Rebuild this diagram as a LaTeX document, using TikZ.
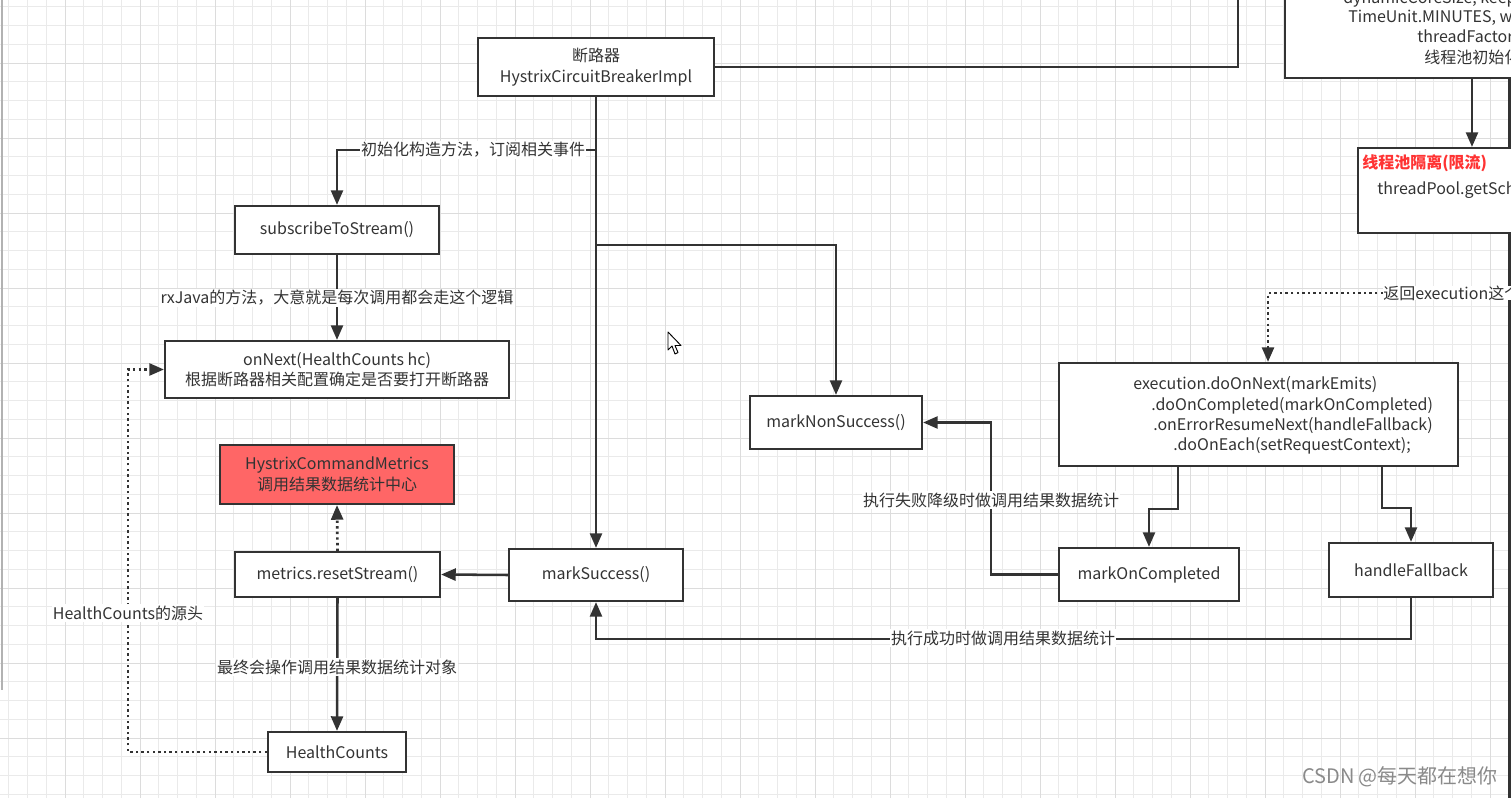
\documentclass[tikz,border=0pt]{standalone}
\usepackage{fontspec}
\setmainfont{Noto Sans CJK SC}
\usetikzlibrary{arrows.meta,calc}
\definecolor{ink}{HTML}{333333}
\definecolor{gridminor}{HTML}{EAEAEA}
\definecolor{gridmajor}{HTML}{DCDCDC}
\definecolor{hcmred}{HTML}{FF6666}
\definecolor{titlered}{HTML}{FF3333}
\definecolor{wmark}{HTML}{8A8A8A}
\newcommand\fsz{\fontsize{12pt}{15.5pt}\selectfont}
\begin{document}
\begin{tikzpicture}[x=0.75pt,y=-0.75pt,
  box/.style={draw=ink,line width=1.6pt,fill=white,inner sep=0pt,align=center,text=ink,font=\fsz},
  conn/.style={draw=ink,line width=1.9pt,-{Triangle[length=11pt,width=9pt]}},
  plain/.style={draw=ink,line width=1.9pt},
  dots/.style={draw=ink,line width=2pt,dash pattern=on 1.8pt off 2.4pt},
  dotsarrow/.style={dots,-{Triangle[length=11pt,width=9pt]}},
  lbl/.style={fill=white,inner sep=1pt,text=ink,font=\fsz},
  txt/.style={inner sep=0pt,text=ink,font=\fsz,anchor=west}]
\useasboundingbox (0,0) rectangle (1511,798);
\clip (0,0) rectangle (1511,798);
\fill[white] (0,0) rectangle (1511,798);
% grid
\foreach \i in {0,...,80} \draw[gridminor,line width=0.7pt] ({8.75+18.75*\i},0) -- ++(0,798);
\foreach \j in {0,...,43} \draw[gridminor,line width=0.7pt] (0,{6.75+18.75*\j}) -- ++(1511,0);
\foreach \i in {0,...,21} \draw[gridmajor,line width=0.7pt] ({-10+75*\i},0) -- ++(0,798);
\foreach \j in {0,...,11} \draw[gridmajor,line width=0.7pt] (0,{-12+75*\j}) -- ++(1511,0);
% window edges
\draw[gray!60,line width=1.5pt] (2,0) -- (2,690);
\draw[ink,line width=1.8pt] (1509.5,0) -- (1509.5,798);

% helper x coordinates
\coordinate (k128) at (128,0);
\coordinate (k991) at (991,0);
\coordinate (k1178) at (1178,0);
\coordinate (k1382) at (1382,0);
\coordinate (k1268) at (1268,0);
\coordinate (k1472) at (1472,0);
\coordinate (j1) at (596,150);
\coordinate (j2) at (596,245);
\coordinate (topend) at (1238,-5);

% nodes
\node[box,minimum width=177pt,minimum height=43.5pt] (breaker) at (596,67) {断路器\\HystrixCircuitBreakerImpl};
\node[box,minimum width=153pt,minimum height=36pt] (sub) at (337,230) {subscribeToStream()};
\node[box,minimum width=258pt,minimum height=42.75pt] (on) at (337,369.5) {onNext(HealthCounts hc)\\根据断路器相关配置确定是否要打开断路器};
\node[box,fill=hcmred,minimum width=175.5pt,minimum height=44.25pt] (hcm) at (337,474.5) {HystrixCommandMetrics\\调用结果数据统计中心};
\node[box,minimum width=153.75pt,minimum height=33.75pt] (rs) at (337.5,574.5) {metrics.resetStream()};
\node[box,minimum width=130.5pt,minimum height=39pt] (ms) at (596,575) {markSuccess()};
\node[box,minimum width=103.5pt,minimum height=30pt] (hc) at (337,752) {HealthCounts};
\node[box,minimum width=129pt,minimum height=39.75pt] (mns) at (836,422.5) {markNonSuccess()};
\node[box,minimum width=299.25pt,minimum height=77.25pt] (exec) at (1258.5,414.5) {};
\node[box,minimum width=135pt,minimum height=39.75pt] (moc) at (1149,574.5) {markOnCompleted};
\node[box,minimum width=123pt,minimum height=40.5pt] (hf) at (1411,570) {handleFallback};
\node[box,minimum width=191.25pt,minimum height=81pt] (tr) at (1412.5,24) {};
\node[box,minimum width=136.5pt,minimum height=63.75pt] (tp) at (1449,190.5) {};

% texts inside exec box
\node[txt] (e1) at (1133,385) {execution.doOnNext(markEmits)};
\node[txt] (e2) at (1151,406) {.doOnCompleted(markOnCompleted)};
\node[txt] (e3) at (1153,426) {.onErrorResumeNext(handleFallback)};
\node[txt] (e4) at (1173,446) {.doOnEach(setRequestContext);};
% texts inside top-right box (cut by the picture's right edge, as in the reference)
\node[txt] (t1) at (1343,-1) {dynamicCoreSize, keepAliveTime,};
\node[txt] (t2) at (1348,18) {TimeUnit.MINUTES, workQueue,};
\node[txt] (t3) at (1417,38) {threadFactory);};
\node[txt] (t4) at (1424,57) {线程池初始化};
% texts inside thread pool box
\node[txt,text=titlered,font=\fsz\bfseries] (p1) at (1362,163) {线程池隔离(限流)};
\node[txt] (p2) at (1377,190) {threadPool.getScheduler()};

% connectors
\draw[conn] (breaker.south) -- (ms.north);
\draw[conn] (j1) -| (sub.north);
\draw[conn] (j2) -| (mns.north);
\draw[plain] (breaker.east) -| (topend);
\draw[conn] (sub.south) -- (on.north);
\draw[conn] (ms.west) -- (rs.east);
\draw[dotsarrow] (rs.north) -- (hcm.south);
\draw[conn] (rs.south) -- (hc.north);
\draw[dotsarrow] (hc.west) -- (hc.west -| k128) -- (on.west -| k128) -- (on.west);
\draw[conn] (exec.south -| k1178) -- ++(0,42) -| (moc.north);
\draw[conn] (exec.south -| k1382) -- ++(0,41) -| (hf.north);
\draw[conn] (moc.west) -- (moc.west -| k991) -- (mns.east -| k991) -- (mns.east);
\draw[conn] (hf.south) -- ++(0,41) -| (ms.south);
\draw[conn] (tr.south -| k1472) -- (tp.north -| k1472);
\node[lbl,anchor=west,inner sep=0pt] (ret) at (1383,293) {返回execution这个对象};
\draw[dotsarrow] (ret.west) -| (exec.north -| k1268);

% connector labels
\node[lbl] (l1) at (473,150) {初始化构造方法，订阅相关事件};
\node[lbl] (l2) at (337,298) {rxJava的方法，大意就是每次调用都会走这个逻辑};
\node[lbl] (l3) at (337,667) {最终会操作调用结果数据统计对象};
\node[lbl] (l4) at (128,613) {HealthCounts的源头};
\node[lbl] (l5) at (991,500) {执行失败降级时做调用结果数据统计};
\node[lbl] (l6) at (1003,638) {执行成功时做调用结果数据统计};

% mouse cursor
\draw[black,line width=0.7pt,fill=white,line join=round]
  (668,332) -- (668,350) -- (672,346) -- (675,354) -- (678,352.5) -- (675,345.5) -- (681,345.5) -- cycle;

% watermark
\node[text=wmark,font=\fontsize{15pt}{18pt}\selectfont,inner sep=0pt] (wm) at (1400,777) {CSDN @每天都在想你};
\end{tikzpicture}
\end{document}
